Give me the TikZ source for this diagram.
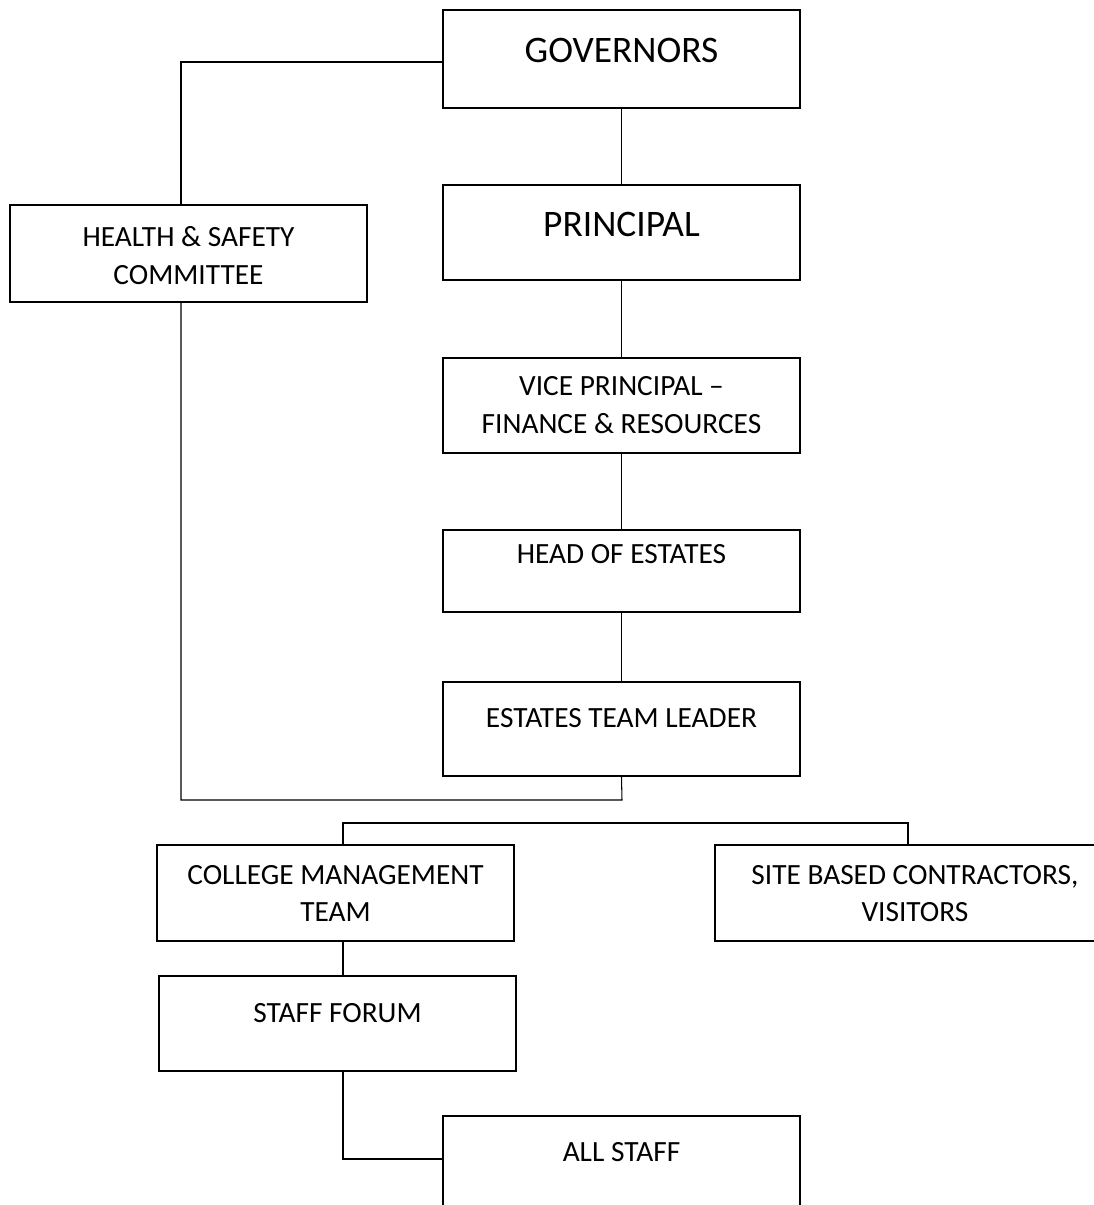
\documentclass[tikz,border=0pt]{standalone}
\usepackage{fontspec}
\setmainfont{Carlito}
\usepackage{tikz}
\usetikzlibrary{positioning, calc}
\tikzset{
  box/.style={rectangle, draw=black, line width=1.1pt,
    minimum width=7.14cm, inner sep=0pt},
  txt/.style={align=center, font=\fontsize{16.7}{21.5}\selectfont},
  bigtxt/.style={align=center, font=\fontsize{21.3}{24}\selectfont},
  link/.style={line width=0.6pt, color=black}
}

\begin{document}
\begin{tikzpicture}[x=0.02cm, y=-0.02cm]
  \useasboundingbox (0,0) rectangle (1094,1205);
  \clip (0,0) rectangle (1094,1205);

  % Main chain
  \node[box, minimum height=1.96cm] (gov) at (621.5,59) {};
  \node[box, minimum height=1.9cm] (prin) at (621.5,232.5) {};
  \node[box, minimum height=1.9cm] (vp) at (621.5,405.5) {};
  \node[box, minimum height=1.64cm] (head) at (621.5,571) {};
  \node[box, minimum height=1.88cm] (etl) at (621.5,729) {};

  % Side boxes
  \node[box, minimum height=1.94cm] (hs) at (188.5,253.5) {};
  \node[box, minimum height=1.92cm] (cmt) at (335.5,893) {};
  \node[box, minimum width=8cm, minimum height=1.92cm] (site) at (915,893) {};
  \node[box, minimum height=1.9cm] (sf) at (337.5,1023.5) {};
  \node[box, minimum height=2.16cm] (allst) at (621.5,1170) {};

  % Texts
  \node[bigtxt] (govtxt) at (621.5,50) {GOVERNORS};
  \node[bigtxt] (printxt) at (621.5,224) {PRINCIPAL};
  \node[txt] (vptxt) at (621.5,405) {VICE PRINCIPAL --\\FINANCE \& RESOURCES};
  \node[txt] (headtxt) at (621.5,554) {HEAD OF ESTATES};
  \node[txt] (etltxt) at (621.5,718) {ESTATES TEAM LEADER};
  \node[txt] (hstxt) at (188.5,255.5) {HEALTH \& SAFETY\\COMMITTEE};
  \node[txt] (cmttxt) at (335.5,893.5) {COLLEGE MANAGEMENT\\TEAM};
  \node[txt] (sitetxt) at (915,893.5) {SITE BASED CONTRACTORS,\\VISITORS};
  \node[txt] (sftxt) at (337.5,1013) {STAFF FORUM};
  \node[txt] (allsttxt) at (621.5,1152) {ALL STAFF};

  % Junctions
  \coordinate (hsx) at (181,62);
  \coordinate (hsjoin) at (622,800);
  \coordinate (barl) at (343,823);
  \coordinate (barr) at (908,823);
  \coordinate (asjoin) at (443,1159);

  % Connections
  \draw[link] (gov.south) -- (prin.north);
  \draw[link] (prin.south) -- (vp.north);
  \draw[link] (vp.south) -- (head.north);
  \draw[link] (head.south) -- (etl.north);
  \draw[link] (gov.west |- hsx) -- (hsx) -- (hsx |- hs.north);
  \draw[link] (hsx |- hs.south) |- (hsjoin) -- (etl.south);
  \draw[link] (barl |- cmt.north) -- (barl) -- (barr) -- (barr |- site.north);
  \draw[link] (barl |- cmt.south) -- (barl |- sf.north);
  \draw[link] (barl |- sf.south) |- (asjoin);
\end{tikzpicture}
\end{document}
